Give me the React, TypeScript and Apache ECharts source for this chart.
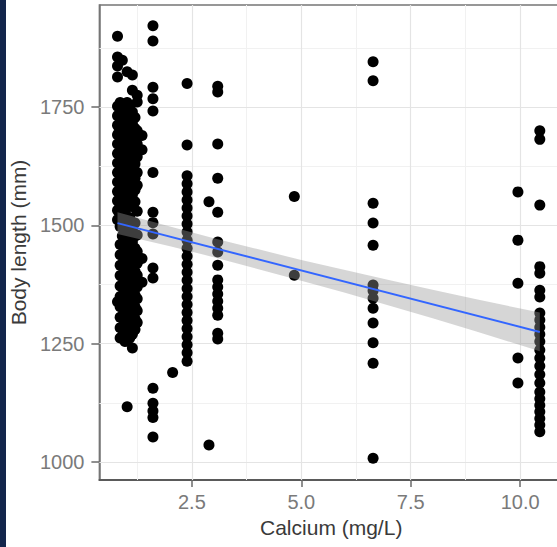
import React, { useEffect, useRef } from "react";
import * as echarts from "echarts";

// Calcium (mg/L) level of each column of observations
const calciumLevels = [0.8, 0.86, 0.91, 0.97, 1.02, 1.08, 1.14, 1.2, 1.25, 1.36, 1.61, 2.06, 2.39, 2.89, 3.09, 4.84, 6.64, 9.95, 10.45];

// Body length (mm) observations at each calcium level (same order as calciumLevels)
const lengthsA = [1900, 1856, 1837, 1814, 1752, 1732, 1712, 1692, 1672, 1652, 1632, 1612, 1592, 1572, 1552, 1532, 1512, 1339];
const lengthsA2 = [1760, 1740, 1718, 1696, 1674, 1652, 1630, 1608, 1586, 1564, 1542, 1520, 1498, 1460, 1438, 1416, 1394, 1372, 1350, 1328, 1306, 1284, 1262];
const lengthsB = [1849, 1745, 1722, 1700, 1678, 1656, 1634, 1612, 1590, 1568, 1546, 1524, 1502, 1478, 1440, 1418, 1396, 1374, 1352, 1330, 1308, 1286, 1266];
const lengthsB2 = [1755, 1733, 1711, 1689, 1667, 1645, 1623, 1601, 1579, 1557, 1535, 1513, 1491, 1469, 1447, 1425, 1403, 1381, 1359, 1337, 1315, 1293, 1271, 1255];
const lengthsC = [1825, 1760, 1738, 1716, 1694, 1672, 1650, 1628, 1606, 1584, 1562, 1540, 1518, 1496, 1474, 1452, 1430, 1408, 1386, 1364, 1342, 1320, 1298, 1276, 1256, 1117];
const lengthsC2 = [1750, 1727, 1703, 1680, 1657, 1633, 1610, 1587, 1563, 1540, 1517, 1493, 1470, 1447, 1423, 1400, 1377, 1353, 1330, 1307, 1283, 1262];
const lengthsD = [1818, 1786, 1740, 1715, 1690, 1665, 1640, 1615, 1590, 1565, 1540, 1490, 1465, 1440, 1415, 1390, 1365, 1340, 1315, 1290, 1270, 1241];
const lengthsD2 = [1728, 1705, 1680, 1655, 1630, 1600, 1575, 1550, 1505, 1478, 1452, 1428, 1403, 1378, 1353, 1328, 1303, 1280];
const lengthsE = [1775, 1761, 1700, 1672, 1645, 1612, 1585, 1530, 1480, 1445, 1420, 1395, 1370, 1345, 1320, 1295];
const lengthsF = [1690, 1660, 1430, 1380];
const lengthsG = [1922, 1890, 1792, 1768, 1742, 1612, 1528, 1506, 1482, 1410, 1389, 1156, 1124, 1108, 1094, 1053];
const lengthsH = [1189];
const lengthsI = [1800, 1670, 1605, 1588, 1571, 1554, 1537, 1520, 1503, 1486, 1469, 1452, 1435, 1418, 1401, 1384, 1367, 1350, 1333, 1316, 1299, 1282, 1265, 1248, 1231, 1213];
const lengthsJ = [1550, 1036];
const lengthsK = [1794, 1782, 1672, 1600, 1528, 1465, 1444, 1416, 1385, 1370, 1355, 1340, 1325, 1310, 1272, 1260];
const lengthsL = [1561, 1395];
const lengthsM = [1846, 1806, 1547, 1505, 1458, 1374, 1362, 1346, 1325, 1294, 1252, 1209, 1008];
const lengthsN = [1571, 1469, 1378, 1220, 1167];
const lengthsO = [1700, 1682, 1543, 1413, 1399, 1363, 1349, 1315, 1300, 1285, 1270, 1255, 1237, 1220, 1203, 1185, 1167, 1148, 1134, 1120, 1106, 1092, 1078, 1064];
const bodyLengths = [
  lengthsA, lengthsA2, lengthsB, lengthsB2, lengthsC, lengthsC2, lengthsD, lengthsD2, lengthsE, lengthsF,
  lengthsG, lengthsH, lengthsI, lengthsJ, lengthsK, lengthsL, lengthsM, lengthsN, lengthsO,
];

// Linear fit
const fitX = [0.8, 10.45];
const fitY = [1505, 1275];

// Confidence band
const bandX = [0.8, 2, 3, 4, 5, 6, 7, 8, 9, 10.45];
const bandLower = [1482, 1456, 1433, 1408, 1383, 1358, 1331, 1304, 1276, 1234];
const bandUpper = [1528, 1498, 1473, 1450, 1427, 1406, 1385, 1364, 1344, 1316];

// Axis ticks and grid lines
const xTickValues = [2.5, 5, 7.5, 10];
const xMinorValues = [1.25, 3.75, 6.25, 8.75];
const yTickValues = [1000, 1250, 1500, 1750];
const yMinorValues = [1125, 1375, 1625, 1875];

const FONT = "'Liberation Sans', Arial, Helvetica, sans-serif";

export default function App() {
  const ref = useRef<HTMLDivElement>(null);

  useEffect(() => {
    if (!ref.current) return;
    const chart = echarts.init(ref.current, null, { renderer: "svg" });

    const points: number[][] = [];
    calciumLevels.forEach((x, i) => {
      bodyLengths[i].forEach((y) => points.push([x, y]));
    });

    const gridLines: any[] = [
      ...xMinorValues.map((v) => ({ xAxis: v, lineStyle: { color: "#f1f1f1", width: 1, type: "solid" } })),
      ...yMinorValues.map((v) => ({ yAxis: v, lineStyle: { color: "#f1f1f1", width: 1, type: "solid" } })),
      ...xTickValues.map((v) => ({ xAxis: v, lineStyle: { color: "#e4e4e4", width: 1.2, type: "solid" } })),
      ...yTickValues.map((v) => ({ yAxis: v, lineStyle: { color: "#e4e4e4", width: 1.2, type: "solid" } })),
    ];

    chart.setOption({
      animation: false,
      backgroundColor: "#ffffff",
      graphic: [
        {
          type: "rect",
          left: 0,
          top: 0,
          shape: { x: 0, y: 0, width: 6, height: 547 },
          style: { fill: "#13264c" },
          z: 100,
        },
      ],
      grid: {
        left: 97,
        top: 5,
        right: 37,
        bottom: 67,
        show: true,
        borderColor: "#767676",
        borderWidth: 1.5,
        backgroundColor: "#ffffff",
      },
      xAxis: {
        type: "value",
        min: 0.386,
        max: 10.98,
        name: "Calcium (mg/L)",
        nameLocation: "middle",
        nameGap: 37,
        nameTextStyle: { fontSize: 21, color: "#3a3a3a", fontFamily: FONT },
        axisLine: { show: true, lineStyle: { color: "#5a5a5a", width: 1.8 } },
        axisTick: {
          show: true,
          length: 7,
          customValues: xTickValues,
          lineStyle: { color: "#6a6a6a", width: 1.5 },
        },
        axisLabel: {
          show: true,
          customValues: xTickValues,
          formatter: (v: number) => v.toFixed(1),
          fontSize: 20,
          color: "#7a7a7a",
          fontFamily: FONT,
          margin: 12,
        },
        splitLine: { show: false },
      },
      yAxis: {
        type: "value",
        min: 962,
        max: 1966,
        name: "Body length (mm)",
        nameLocation: "middle",
        nameGap: 66,
        nameTextStyle: { fontSize: 21, color: "#3a3a3a", fontFamily: FONT },
        axisLine: { show: true, lineStyle: { color: "#767676", width: 1.5 } },
        axisTick: {
          show: true,
          length: 8,
          customValues: yTickValues,
          lineStyle: { color: "#6a6a6a", width: 1.5 },
        },
        axisLabel: {
          show: true,
          customValues: yTickValues,
          formatter: (v: number) => String(Math.round(v)),
          fontSize: 20,
          color: "#7a7a7a",
          fontFamily: FONT,
          margin: 15,
        },
        splitLine: { show: false },
      },
      series: [
        {
          type: "line",
          name: "grid",
          data: [[5, 1500]],
          symbol: "none",
          lineStyle: { width: 0, opacity: 0 },
          silent: true,
          z: 1,
          markLine: {
            silent: true,
            symbol: ["none", "none"],
            label: { show: false },
            z: 1,
            data: gridLines,
          },
        },
        {
          type: "scatter",
          name: "observations",
          data: points,
          symbol: "circle",
          symbolSize: 11,
          itemStyle: { color: "#000000", opacity: 1 },
          emphasis: { disabled: true },
          silent: true,
          z: 3,
        },
        {
          type: "custom",
          name: "band",
          silent: true,
          clip: true,
          z: 4,
          data: bandX.map((x, i) => [x, bandLower[i], bandUpper[i]]),
          encode: { x: 0, y: [1, 2] },
          renderItem: (params: any, api: any) => {
            if (params.dataIndex !== 0) return null;
            const upper = bandX.map((x, i) => api.coord([x, bandUpper[i]]));
            const lower = bandX.map((x, i) => api.coord([x, bandLower[i]])).reverse();
            return {
              type: "polygon",
              shape: { points: upper.concat(lower) },
              style: { fill: "rgba(153,153,153,0.4)" },
            };
          },
        },
        {
          type: "line",
          name: "fit",
          data: fitX.map((x, i) => [x, fitY[i]]),
          symbol: "none",
          lineStyle: { color: "#3366ff", width: 2 },
          silent: true,
          z: 5,
        },
      ],
    });

    return () => chart.dispose();
  }, []);

  return (
    <div
      style={{
        position: "fixed",
        left: 0,
        top: 0,
        width: 557,
        height: 547,
        overflow: "hidden",
        background: "#ffffff",
      }}
    >
      <div ref={ref} style={{ width: 600, height: 547 }} />
    </div>
  );
}
